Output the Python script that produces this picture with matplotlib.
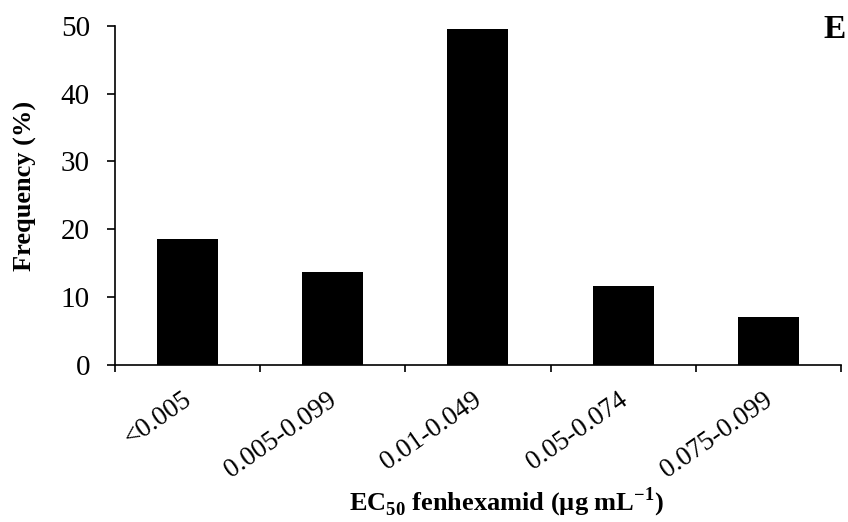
import matplotlib
matplotlib.use("Agg")
import matplotlib.pyplot as plt
import numpy as np

categories = ["<0.005", "0.005-0.099", "0.01-0.049", "0.05-0.074", "0.075-0.099"]
frequency = [18.6, 13.7, 49.5, 11.6, 7.1]
yticks = [0, 10, 20, 30, 40, 50]

plt.rcParams['font.family'] = ['Liberation Serif', 'DejaVu Serif']
plt.rcParams['mathtext.fontset'] = 'custom'
plt.rcParams['mathtext.rm'] = 'Liberation Serif'
plt.rcParams['mathtext.bf'] = 'Liberation Serif:bold'

fig = plt.figure(figsize=(8.48, 5.22), dpi=100)
ax = fig.add_axes([0.1356, 0.3008, 0.8561, 0.65])

x = np.arange(len(categories))
ax.bar(x, frequency, width=0.42, color='black')
ax.set_xlim(-0.5, len(categories) - 0.5)
ax.set_ylim(0, 50)

for s in ['top', 'right']:
    ax.spines[s].set_visible(False)
for s in ['left', 'bottom']:
    ax.spines[s].set_linewidth(1.2)

ax.set_yticks(yticks)
ax.set_yticklabels([str(v) for v in yticks], fontsize=21)
ax.tick_params(axis='y', direction='out', length=6, width=1.2, pad=12)

# category boundaries as ticks
ax.set_xticks(np.arange(-0.5, len(categories), 1.0))
ax.set_xticklabels([])
ax.tick_params(axis='x', direction='out', length=5, width=1.2)

for xi, lab in zip(x, categories):
    ax.annotate(lab, xy=(xi, 0), xycoords=('data', 'axes fraction'),
                xytext=(-4, -16), textcoords='offset points',
                rotation=35, rotation_mode='anchor', ha='right', va='top',
                fontsize=19.5)

ax.set_ylabel('Frequency (%)', fontsize=19, fontweight='bold')
ax.yaxis.set_label_coords(-0.108, 0.527)

fig.text(0.597, 0.038, r'EC$_{\mathbf{50}}$ fenhexamid (µg mL$^{\mathbf{-1}}$)',
         ha='center', va='center', fontsize=19, fontweight='bold')
fig.text(0.997, 0.943, 'E', ha='right', va='center', fontsize=24, fontweight='bold')

fig.savefig('out.png', dpi=100)
